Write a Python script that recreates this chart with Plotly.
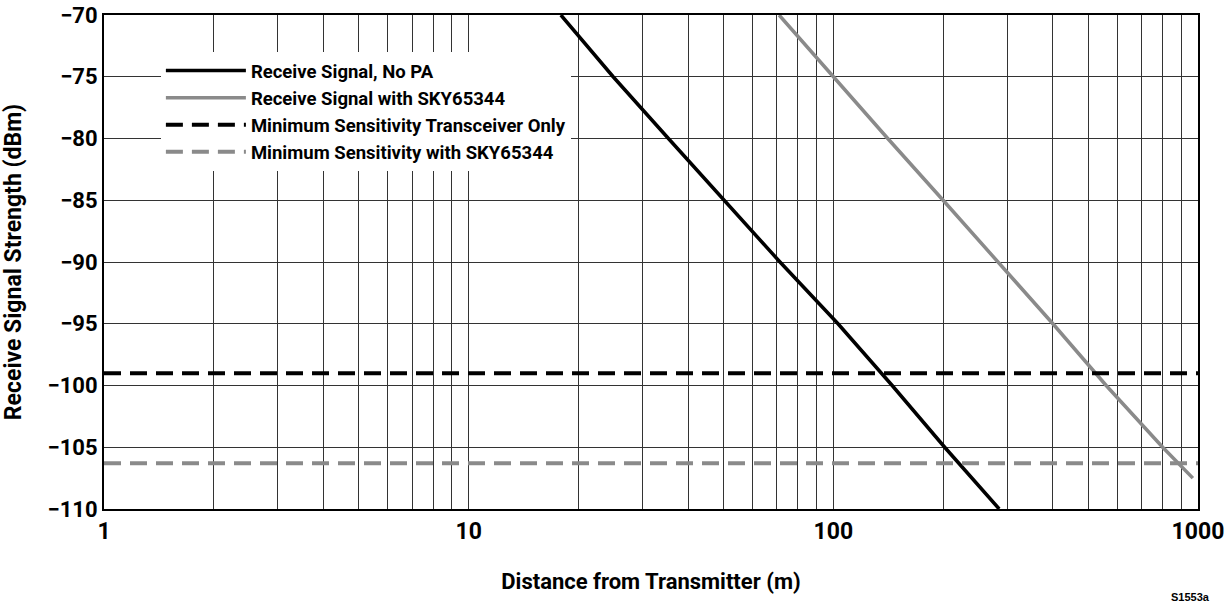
import plotly.graph_objects as go

# Data
dist_no_pa = [17.9, 24.9, 35.3, 50.1, 71.4, 103, 145, 202, 285]
rss_no_pa = [-70, -75, -80, -85, -90, -95, -100, -105, -110]

dist_pa = [71, 100, 141, 200, 283, 400, 560, 800, 968]
rss_pa = [-70, -75, -80, -85, -90, -95, -100, -105, -107.5]

dist_range = [1, 1000]
min_sens_xcvr = [-99.0, -99.0]
min_sens_pa = [-106.3, -106.3]

names = [
    "Receive Signal, No PA",
    "Receive Signal with SKY65344",
    "Minimum Sensitivity Transceiver Only",
    "Minimum Sensitivity with SKY65344",
]

x_major = [1, 10, 100, 1000]
x_minor = [m * d for d in [1, 10, 100] for m in range(2, 10)]
y_ticks = [-70, -75, -80, -85, -90, -95, -100, -105, -110]

FONT = "Roboto, Liberation Sans, Arial, sans-serif"
BLACK = "#000000"
GRAY = "#8a8a8a"

fig = go.Figure()
fig.add_trace(go.Scatter(x=dist_no_pa, y=rss_no_pa, mode="lines", name=names[0],
                         line=dict(color=BLACK, width=3.5)))
fig.add_trace(go.Scatter(x=dist_pa, y=rss_pa, mode="lines", name=names[1],
                         line=dict(color=GRAY, width=3.5)))
fig.add_trace(go.Scatter(x=dist_range, y=min_sens_xcvr, mode="lines", name=names[2],
                         line=dict(color=BLACK, width=4, dash="17px,9px")))
fig.add_trace(go.Scatter(x=dist_range, y=min_sens_pa, mode="lines", name=names[3],
                         line=dict(color=GRAY, width=4, dash="17px,9px")))

fig.update_layout(
    width=1228, height=605,
    margin=dict(l=104, r=30, t=15, b=96),
    paper_bgcolor="white", plot_bgcolor="white",
    font=dict(family=FONT, color="black"),
    showlegend=True,
    legend=dict(
        x=0.052, y=0.925, xanchor="left", yanchor="top",
        bgcolor="white", borderwidth=0,
        font=dict(family=FONT, size=18.5, color="black", weight="bold"),
        itemwidth=80, tracegroupgap=0,
    ),
    xaxis=dict(
        type="log", range=[0, 3], automargin=False,
        tickvals=x_major, ticktext=[str(v) for v in x_major],
        showgrid=True, gridcolor="#333333", gridwidth=1,
        minor=dict(tickvals=x_minor, showgrid=True, gridcolor="#333333", gridwidth=1, ticks=""),
        showline=True, linecolor="black", linewidth=2, mirror=True,
        ticks="", zeroline=False,
        tickfont=dict(family=FONT, size=23, color="black", weight="bold"),
        title=dict(text="Distance from Transmitter (m)",
                   font=dict(family=FONT, size=22, color="black", weight="bold"),
                   standoff=30),
    ),
    yaxis=dict(
        range=[-110, -70], automargin=False,
        tickvals=y_ticks, ticktext=["\u2212" + str(-v) for v in y_ticks],
        showgrid=True, gridcolor="#333333", gridwidth=1,
        showline=True, linecolor="black", linewidth=2, mirror=True,
        ticks="", zeroline=False,
        tickfont=dict(family=FONT, size=22, color="black", weight="bold"),
        title=dict(text="Receive Signal Strength (dBm)",
                   font=dict(family=FONT, size=23, color="black", weight="bold"),
                   standoff=22),
    ),
)

fig.add_annotation(text="S1553a", xref="paper", yref="paper", x=1.0, y=-0.178,
                   xanchor="center", yanchor="middle", showarrow=False, xshift=-8,
                   font=dict(family="Liberation Sans, Arial, sans-serif", size=11,
                             color="black", weight="bold"))

fig.write_html("out.html")
